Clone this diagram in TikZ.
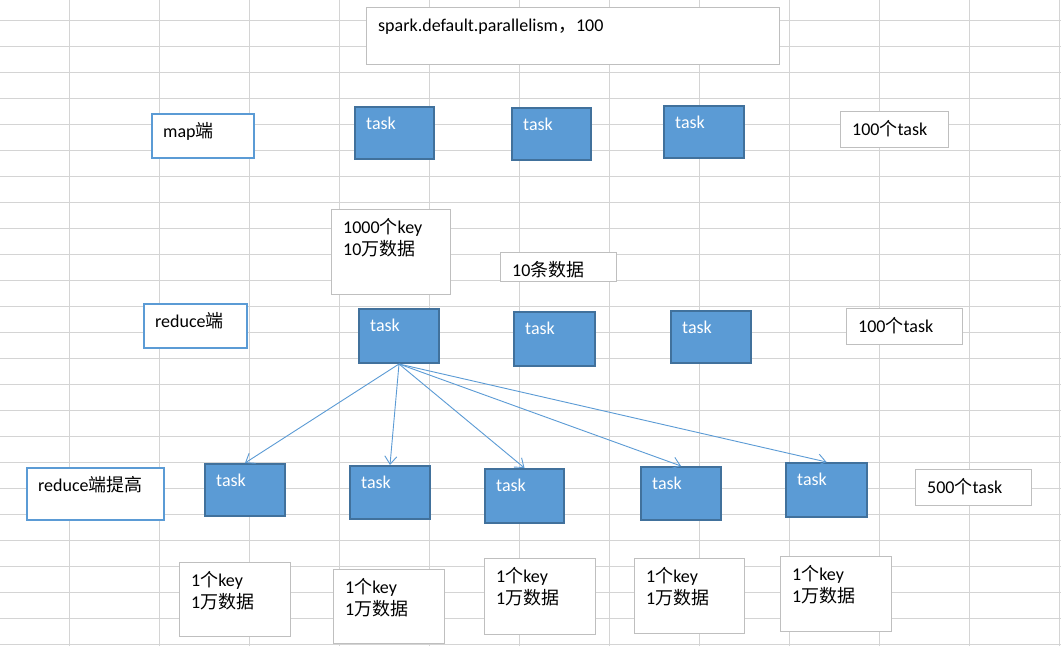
\documentclass[tikz,border=0pt]{standalone}
\usepackage{fontspec}
\setmainfont{Carlito}
\newfontfamily\cjk{Noto Sans CJK SC}
\newcommand{\zhtxt}[1]{{\cjk #1}}
\newcommand{\boxfont}{\fontsize{18}{22.5}\selectfont}
\usepackage{xcolor}
\usepackage{tikz}
\usetikzlibrary{arrows.meta}
\definecolor{gridgray}{RGB}{212,212,212}
\definecolor{notegray}{RGB}{191,191,191}
\definecolor{taskblue}{RGB}{91,155,213}
\definecolor{taskedge}{RGB}{65,113,156}
\definecolor{sideblue}{RGB}{91,155,213}
\definecolor{arrowblue}{RGB}{91,155,213}
\tikzset{
  gridline/.style={draw=gridgray, line width=1pt},
  taskbox/.style={draw=taskedge, fill=taskblue, line width=2pt, anchor=north west,
                  inner sep=0pt, minimum width=80pt, minimum height=53pt,
                  label={[tasklabel]north west:task}},
  tasklabel/.style={anchor=base west, inner sep=0pt, xshift=12pt, yshift=-23pt,
                    text=white, font=\boxfont},
  sidebox/.style={draw=sideblue, line width=2pt, fill=white, anchor=north west,
                  inner sep=0pt},
  notebox/.style={draw=notegray, line width=1.2pt, fill=white, anchor=north west,
                  inner sep=0pt},
  notelabel/.style={anchor=base west, inner sep=0pt, xshift=12pt, text=black,
                    font=\boxfont},
  oneline/.style={label={[notelabel, yshift=-24pt]north west:#1}},
  twolines/.style 2 args={label={[notelabel, yshift=-24pt]north west:#1},
                          label={[notelabel, yshift=-46.5pt]north west:#2}},
  fanarr/.style={-{Straight Barb[length=8pt,width=12pt]}, line width=0.9pt, arrowblue}
}
\begin{document}
\begin{tikzpicture}[x=1pt, y=-1pt]
    \useasboundingbox (0,0) rectangle (1061,646);
    \fill[white] (0,0) rectangle (1061,646);

    % sheet grid
    \foreach \gx in {69,159,...,1059} \draw[gridline] (\gx,0) -- (\gx,646);
    \foreach \gy in {20,46,...,644} \draw[gridline] (0,\gy) -- (1061,\gy);

    \node[notebox, oneline={spark.default.parallelism\zhtxt{，}100},
          minimum width=413pt, minimum height=57pt] (par) at (366,7) {};

    % map side
    \node[sidebox, oneline={map\zhtxt{端}}, minimum width=102pt, minimum height=44pt] (mapside) at (151,113) {};
    \node[taskbox, minimum width=79pt, minimum height=52pt] (m1) at (354,106) {};
    \node[taskbox, minimum width=79pt, minimum height=52pt] (m2) at (511,107) {};
    \node[taskbox, minimum width=80pt, minimum height=52pt] (m3) at (663,105) {};
    \node[notebox, oneline={100\zhtxt{个}task}, minimum width=108pt, minimum height=36pt] (mapnum) at (840,111) {};

    \node[notebox, twolines={1000\zhtxt{个}key}{10\zhtxt{万数据}},
          minimum width=119pt, minimum height=85pt] (keys) at (331,209) {};
    \node[notebox, oneline={10\zhtxt{条数据}}, minimum width=116pt, minimum height=29pt] (rows) at (500,252) {};

    % reduce side
    \node[sidebox, oneline={reduce\zhtxt{端}}, minimum width=103pt, minimum height=44pt] (redside) at (143,303) {};
    \node[taskbox, minimum width=80pt, minimum height=54pt] (r1) at (358,308) {};
    \node[taskbox, minimum width=81pt, minimum height=54pt] (r2) at (513,311) {};
    \node[taskbox, minimum width=80pt, minimum height=52pt] (r3) at (670,310) {};
    \node[notebox, oneline={100\zhtxt{个}task}, minimum width=116pt, minimum height=36pt] (rednum) at (846,308) {};

    % raised reduce side
    \node[sidebox, oneline={reduce\zhtxt{端提高}}, minimum width=137pt, minimum height=52pt] (upside) at (26,467) {};
    \node[taskbox, minimum width=80pt, minimum height=52pt] (e1) at (204,463) {};
    \node[taskbox, minimum width=80pt, minimum height=53pt] (e2) at (349,465) {};
    \node[taskbox, minimum width=79pt, minimum height=54pt] (e3) at (484,468) {};
    \node[taskbox, minimum width=80pt, minimum height=53pt] (e4) at (640,466) {};
    \node[taskbox, minimum width=81pt, minimum height=54pt] (e5) at (785,462) {};
    \node[notebox, oneline={500\zhtxt{个}task}, minimum width=116pt, minimum height=36pt] (upnum) at (915,469) {};

    \draw[fanarr] (r1.south) -- (e1.north);
    \draw[fanarr] (r1.south) -- (e2.north);
    \draw[fanarr] (r1.south) -- (e3.north);
    \draw[fanarr] (r1.south) -- (e4.north);
    \draw[fanarr] (r1.south) -- (e5.north);

    \node[notebox, twolines={1\zhtxt{个}key}{1\zhtxt{万数据}}, minimum width=111pt, minimum height=74pt] (k1) at (179,562) {};
    \node[notebox, twolines={1\zhtxt{个}key}{1\zhtxt{万数据}}, minimum width=111pt, minimum height=74pt] (k2) at (333,569) {};
    \node[notebox, twolines={1\zhtxt{个}key}{1\zhtxt{万数据}}, minimum width=111pt, minimum height=76pt] (k3) at (484,558) {};
    \node[notebox, twolines={1\zhtxt{个}key}{1\zhtxt{万数据}}, minimum width=110pt, minimum height=75pt] (k4) at (634,558) {};
    \node[notebox, twolines={1\zhtxt{个}key}{1\zhtxt{万数据}}, minimum width=111pt, minimum height=75pt] (k5) at (780,556) {};
  \end{tikzpicture}
\end{document}
